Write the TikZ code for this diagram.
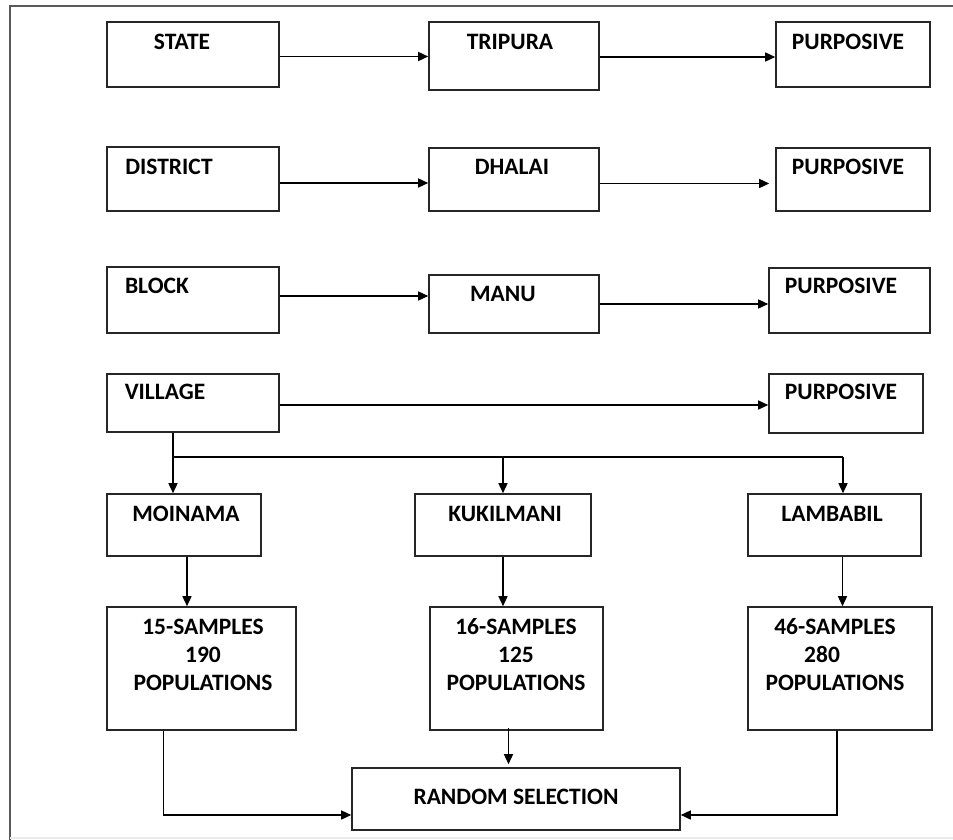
\documentclass[tikz,border=0pt]{standalone}
\usepackage{fontspec}
\setmainfont{Carlito}
\usetikzlibrary{arrows.meta,fit}

\begin{document}
\begin{tikzpicture}[x=1pt,y=-1pt,->,>={Triangle[length=10pt,width=9pt]},
		line width=1.5pt]
		\tikzstyle{box}=[draw=black!85,inner sep=0pt,line width=1.6pt]
		\tikzstyle{lbl}=[font=\bfseries\fontsize{23.5}{28}\selectfont,inner sep=0pt,align=center]
		\useasboundingbox (0,0) rectangle (953,840);
		% frame
		\draw[-,black!65,line width=2pt] (10,840) -- (10,6) -- (953,6);
		\draw[-,black!8,line width=1.5pt] (10,838) -- (953,838);
		% levels
		\node[box, fit={(107,22) (279,87)}]   (state)     {};
		\node[box, fit={(429,22) (599,90)}]   (tripura)   {};
		\node[box, fit={(776,22) (930,87)}]   (purp1)     {};
		\node[box, fit={(107,147) (279,211)}] (district)  {};
		\node[box, fit={(429,148) (599,211)}] (dhalai)    {};
		\node[box, fit={(776,148) (930,211)}] (purp2)     {};
		\node[box, fit={(107,267) (279,333)}] (block)     {};
		\node[box, fit={(429,275) (599,333)}] (manu)      {};
		\node[box, fit={(769,268) (930,333)}] (purp3)     {};
		\node[box, fit={(107,374) (279,432)}] (village)   {};
		\node[box, fit={(769,374) (923,433)}] (purp4)     {};
		\node[box, fit={(107,494) (261,556)}] (moinama)   {};
		\node[box, fit={(415,494) (591,556)}] (kukilmani) {};
		\node[box, fit={(748,494) (921,556)}] (lambabil)  {};
		\node[box, fit={(107,607) (296,730)}] (samp1)     {};
		\node[box, fit={(430,607) (603,730)}] (samp2)     {};
		\node[box, fit={(748,607) (932,730)}] (samp3)     {};
		\node[box, fit={(352,768) (680,830)}] (random)    {};
		% texts
		\node[lbl] (stateT)     at (182,42)  {STATE};
		\node[lbl] (tripuraT)   at (510,42)  {TRIPURA};
		\node[lbl] (purp1T)     at (848,42)  {PURPOSIVE};
		\node[lbl] (districtT)  at (169,167) {DISTRICT};
		\node[lbl] (dhalaiT)    at (512,167) {DHALAI};
		\node[lbl] (purp2T)     at (848,167) {PURPOSIVE};
		\node[lbl] (blockT)     at (157,286) {BLOCK};
		\node[lbl] (manuT)      at (503,294) {MANU};
		\node[lbl] (purp3T)     at (841,286) {PURPOSIVE};
		\node[lbl] (villageT)   at (165,392) {VILLAGE};
		\node[lbl] (purp4T)     at (841,392) {PURPOSIVE};
		\node[lbl] (moinamaT)   at (186,514) {MOINAMA};
		\node[lbl] (kukilmaniT) at (505,514) {KUKILMANI};
		\node[lbl] (lambabilT)  at (832,514) {LAMBABIL};
		\node[lbl] (samp1T)     at (203,655) {15-SAMPLES\\190\\POPULATIONS};
		\node[lbl] (samp2T)     at (516,655) {16-SAMPLES\\125\\POPULATIONS};
		\node[lbl] (samp3T)     at (835,655) {46-SAMPLES\\280\hspace{1.1em}\null\\POPULATIONS};
		\node[lbl] (randomT)    at (516,797) {RANDOM SELECTION};
		% level arrows
		\draw ([yshift=-2pt]state.east)   -- ([yshift=-2pt]state.east -| tripura.west);
		\draw ([yshift=-1pt]tripura.east) -- ([yshift=-1pt]tripura.east -| purp1.west);
		\draw ([yshift=-4pt]district.east) -- ([yshift=-4pt]district.east -| dhalai.west);
		\draw ([yshift=-4pt]dhalai.east)  -- ([xshift=-6pt,yshift=-4pt]dhalai.east -| purp2.west);
		\draw ([yshift=4pt]block.east)    -- ([yshift=4pt]block.east -| manu.west);
		\draw ([yshift=0pt]manu.east)     -- (manu.east -| purp3.west);
		\draw ([yshift=-2pt]village.east) -- ([yshift=-2pt]village.east -| purp4.west);
		% villages
		\coordinate (busL) at (173,457);
		\coordinate (busR) at (843,457);
		\draw[-] (busL |- village.south) -- (busL) -- (busR);
		\draw (busL) -- (busL |- moinama.north);
		\draw (busL -| kukilmani.north) -- (kukilmani.north);
		\draw (busR) -- (busR |- lambabil.north);
		% samples
		\draw ([xshift=3pt]moinama.south) -- ([xshift=3pt]moinama.south |- samp1.north);
		\draw (kukilmani.south) -- (kukilmani.south |- samp2.north);
		\draw ([xshift=8pt]lambabil.south) -- ([xshift=8pt]lambabil.south |- samp3.north);
		% random selection
		\draw ([xshift=-38pt]samp1.south) |- ([yshift=-16pt]random.west);
		\draw ([xshift=-8pt,yshift=3pt]samp2.south) -- ([xshift=-8pt,yshift=3pt]samp2.south |- random.north);
		\draw ([xshift=-3pt]samp3.south) |- ([yshift=-16pt]random.east);
	\end{tikzpicture}
\end{document}
